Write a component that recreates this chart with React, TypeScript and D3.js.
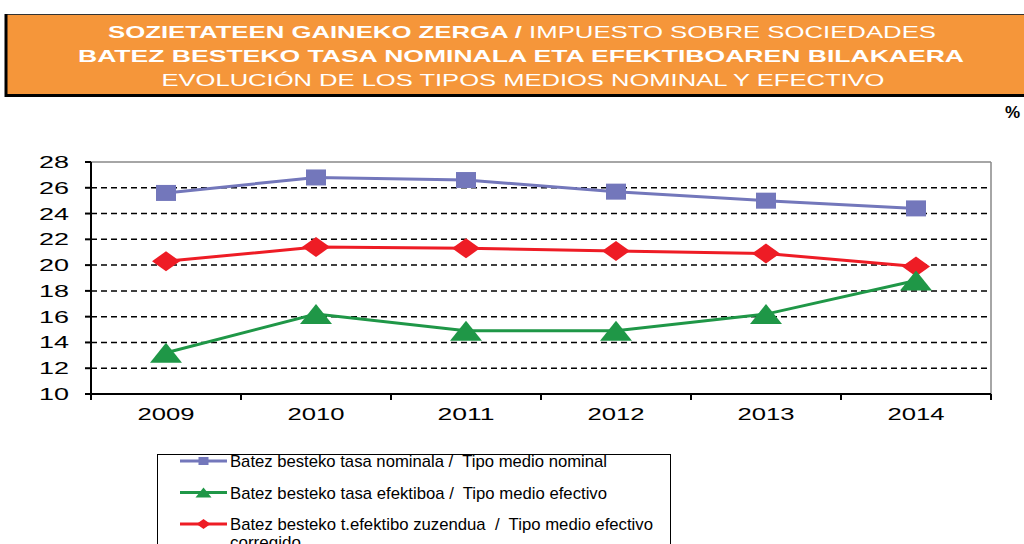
import * as d3 from 'd3'

const years = ['2009', '2010', '2011', '2012', '2013', '2014']
const nominal = [25.6, 26.8, 26.6, 25.7, 25.0, 24.4]
const efectivo = [13.2, 16.2, 14.9, 14.9, 16.2, 18.8]
const corregido = [20.3, 21.4, 21.3, 21.1, 20.9, 19.9]
const yTicks = [10, 12, 14, 16, 18, 20, 22, 24, 26, 28]

const seriesNames = [
  'Batez besteko tasa nominala /  Tipo medio nominal',
  'Batez besteko tasa efektiboa /  Tipo medio efectivo',
  'Batez besteko t.efektibo zuzendua  /  Tipo medio efectivo',
]

const BLUE = '#7377BB'
const GREEN = '#1F9747'
const RED = '#EE1C25'
const FONT = 'Liberation Sans, Arial, sans-serif'

function Marker({ kind, x, y, color, s = 1 }: { kind: string; x: number; y: number; color: string; s?: number }) {
  if (kind === 'square') return <rect x={x - 10 * s} y={y - 8 * s} width={20 * s} height={16 * s} fill={color} />
  if (kind === 'tri') {
    return <path d={`M${x},${y - 10 * s}L${x + 16 * s},${y + 10 * s}L${x - 16 * s},${y + 10 * s}Z`} fill={color} />
  }
  return <path d={`M${x},${y - 10 * s}L${x + 14 * s},${y}L${x},${y + 10 * s}L${x - 14 * s},${y}Z`} fill={color} />
}

export default function App() {
  const left = 91, right = 991, top = 162, bottom = 394
  const x = d3.scaleBand().domain(years).range([left, right])
  const y = d3.scaleLinear().domain([10, 28]).range([bottom, top])
  const cx = (yr: string) => (x(yr) || 0) + x.bandwidth() / 2
  const line = d3.line<number>().x((_, i) => cx(years[i])).y(d => y(d))

  const series = [
    { vals: nominal, color: BLUE, kind: 'square' },
    { vals: corregido, color: RED, kind: 'diamond' },
    { vals: efectivo, color: GREEN, kind: 'tri' },
  ]
  const legend = [
    { name: seriesNames[0], color: BLUE, kind: 'square', w: 377 },
    { name: seriesNames[1], color: GREEN, kind: 'tri', w: 377 },
    { name: seriesNames[2], color: RED, kind: 'diamond', w: 423 },
  ]

  return (
    <svg width={1024} height={544} style={{ position: 'absolute', left: 0, top: 0, background: '#fff' }} fontFamily={FONT}>
      {/* header band */}
      <rect x={5} y={14} width={1030} height={81} fill="#F5963A" />
      <line x1={5} x2={1030} y1={14.5} y2={14.5} stroke="#333" strokeWidth={1} />
      <line x1={6} x2={6} y1={14} y2={97} stroke="#000" strokeWidth={3} />
      <line x1={5} x2={1030} y1={95.5} y2={95.5} stroke="#000" strokeWidth={3} />
      <text x={522} y={38} textAnchor="middle" fill="#fff" fontSize={17} textLength={828} lengthAdjust="spacingAndGlyphs">
        <tspan fontWeight="bold">SOZIETATEEN GAINEKO ZERGA / </tspan>IMPUESTO SOBRE SOCIEDADES
      </text>
      <text x={521} y={62} textAnchor="middle" fill="#fff" fontSize={17} fontWeight="bold" textLength={886} lengthAdjust="spacingAndGlyphs">
        BATEZ BESTEKO TASA NOMINALA ETA EFEKTIBOAREN BILAKAERA
      </text>
      <text x={523} y={86} textAnchor="middle" fill="#fff" fontSize={17} textLength={723} lengthAdjust="spacingAndGlyphs">
        EVOLUCIÓN DE LOS TIPOS MEDIOS NOMINAL Y EFECTIVO
      </text>
      <text x={1005} y={118} fontSize={17} fontWeight="bold" fill="#000">%</text>

      {/* grid */}
      {yTicks.filter(t => t > 10 && t < 28).map(t => (
        <line key={t} x1={left} x2={right} y1={y(t)} y2={y(t)} stroke="#000" strokeWidth={1.5} strokeDasharray="6,4" />
      ))}
      <line x1={left} x2={right} y1={top} y2={top} stroke="#888" strokeWidth={1.5} />
      <line x1={right} x2={right} y1={top} y2={bottom} stroke="#888" strokeWidth={1.5} />
      <line x1={left} x2={left} y1={top} y2={bottom + 1} stroke="#000" strokeWidth={2} />
      <line x1={left - 6} x2={right} y1={bottom} y2={bottom} stroke="#000" strokeWidth={2} />
      {yTicks.map(t => (
        <g key={t}>
          <line x1={left - 6} x2={left} y1={y(t)} y2={y(t)} stroke="#000" strokeWidth={2} />
          <text x={69} y={y(t) + 6} textAnchor="end" fontSize={17} fill="#000" textLength={30} lengthAdjust="spacingAndGlyphs">{t}</text>
        </g>
      ))}
      {[...years.map(yr => x(yr) || 0), right].map((v, i) => (
        <line key={i} x1={v} x2={v} y1={bottom} y2={bottom + 6} stroke="#000" strokeWidth={2} />
      ))}
      {years.map(yr => (
        <text key={yr} x={cx(yr)} y={420} textAnchor="middle" fontSize={17} fill="#000" textLength={57} lengthAdjust="spacingAndGlyphs">{yr}</text>
      ))}

      {/* series */}
      {series.map((s, i) => (
        <g key={i}>
          <path d={line(s.vals) || ''} fill="none" stroke={s.color} strokeWidth={3} />
          {s.vals.map((v, j) => <Marker key={j} kind={s.kind} x={cx(years[j])} y={y(v)} color={s.color} />)}
        </g>
      ))}

      {/* legend */}
      <rect x={157.5} y={454.5} width={513} height={100} fill="#fff" stroke="#000" strokeWidth={1} />
      {legend.map((l, i) => {
        const ly = 461 + i * 31.5
        return (
          <g key={i}>
            <line x1={180} x2={227} y1={ly} y2={ly} stroke={l.color} strokeWidth={3} />
            <Marker kind={l.kind} x={203.5} y={ly} color={l.color} s={0.5} />
            <text x={230} y={ly + 6} fontSize={17} fill="#000" xmlSpace="preserve" textLength={l.w} lengthAdjust="spacingAndGlyphs">{l.name}</text>
          </g>
        )
      })}
      <text x={230} y={548} fontSize={17} fill="#000">corregido</text>
    </svg>
  )
}
